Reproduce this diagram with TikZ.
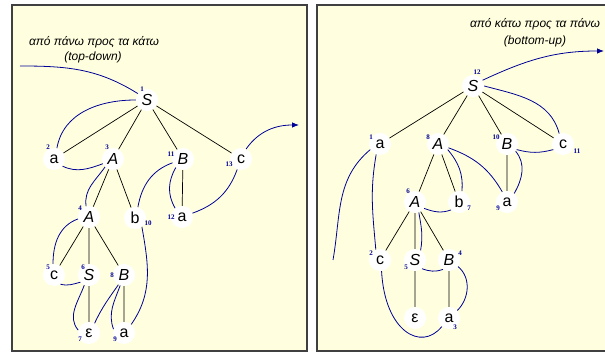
\documentclass[tikz,border=0pt]{standalone}
\usepackage{fontspec}
\setmainfont{Liberation Sans}
\newfontfamily\numfont{Liberation Serif}
\usetikzlibrary{arrows.meta}
\definecolor{bg}{RGB}{255,255,224}
\definecolor{nav}{RGB}{0,0,150}
\definecolor{frame}{RGB}{64,64,64}
\begin{document}
\begin{tikzpicture}[x=1pt,y=1pt,
  tn/.style={circle,fill=white,inner sep=0pt,minimum size=22pt,font=\fontsize{16}{16}\selectfont},
  lb/.style={inner sep=0pt,text=nav,font=\numfont\bfseries\fontsize{7}{7}\selectfont},
  ed/.style={black,line width=0.7pt},
  tr/.style={nav,line width=0.8pt},
  ttl/.style={font=\itshape\fontsize{12}{12}\selectfont,inner sep=0pt,align=center},
  ar/.style={-{Latex[length=7pt,width=5.5pt]}}]
\useasboundingbox (0,0) rectangle (605,352);
\fill[white] (0,0) rectangle (605,352);
\draw[frame, fill=bg, line width=1.2pt] (12,1) rectangle (307,347);
\draw[frame, fill=bg, line width=1.2pt] (317,1) rectangle (612,347);
% ---------- left panel ----------
\node[ttl] (t1) at (94,310) {από πάνω προς τα κάτω};
\node[ttl] (t2) at (93,295) {(top-down)};
\node[tn] (S1) at (147,252) {\textit{S}};
\node[tn] (a2) at (54,193) {a};
\node[tn] (A3) at (113,193) {\textit{A}};
\node[tn] (B11) at (183,193) {\textit{B}};
\node[tn] (c13) at (241,193) {c};
\node[tn] (A4) at (89,135) {\textit{A}};
\node[tn] (b10) at (135,134) {b};
\node[tn] (a12) at (182,135) {a};
\node[tn] (c5) at (54,77) {c};
\node[tn] (S6) at (89,77) {\textit{S}};
\node[tn] (B8) at (124,77) {\textit{B}};
\node[tn] (eps) at (89,19) {ε};
\node[tn] (a9) at (124,19) {a};
\node[lb] (n1) at (142,263) {1};
\node[lb] (n2) at (48,205) {2};
\node[lb] (n3) at (107,205) {3};
\node[lb] (n11) at (171,198) {11};
\node[lb] (n13) at (229,188) {13};
\node[lb] (n4) at (80,144) {4};
\node[lb] (n10) at (148,129) {10};
\node[lb] (n12) at (171,135) {12};
\node[lb] (n5) at (48,85) {5};
\node[lb] (n6) at (83,85) {6};
\node[lb] (n8) at (112,77) {8};
\node[lb] (n7) at (80,13) {7};
\node[lb] (n9) at (115,13) {9};
\draw[ed] (S1) -- (a2) (S1) -- (A3) (S1) -- (B11) (S1) -- (c13)
  (A3) -- (A4) (A3) -- (b10) (B11) -- (a12)
  (A4) -- (c5) (A4) -- (S6) (A4) -- (B8) (S6) -- (eps) (B8) -- (a9);
\coordinate (inL) at (20,286);
\coordinate (outL) at (299,227);
\draw[tr] (inL) to[out=0,in=148] (S1.145);
\draw[tr] (S1.180) to[out=180,in=80] (a2.75);
\draw[tr] (a2.320) to[out=-25,in=200] (A3.205);
\draw[tr] (A3.225) to[out=235,in=98] (A4.105);
\draw[tr] (A4.190) to[out=200,in=90] (c5.95);
\draw[tr] (c5.305) to[out=-15,in=195] (S6.220);
\draw[tr] (S6.245) to[out=250,in=130] (eps.165);
\draw[tr] (eps.60) to[out=65,in=235] (B8.240);
\draw[tr] (B8.250) to[out=250,in=110] (a9.160);
\draw[tr] (a9.50) to[out=55,in=280] (b10.308);
\draw[tr] (b10.75) to[out=80,in=200] (B11.200);
\draw[tr] (B11.230) to[out=240,in=120] (a12.128);
\draw[tr] (a12.20) to[out=20,in=250] (c13.250);
\draw[tr,ar] (c13.63) to[out=55,in=180] (outL);
% ---------- right panel ----------
\node[ttl] (t3) at (535,328) {από κάτω προς τα πάνω};
\node[ttl] (t4) at (535,311) {(bottom-up)};
\node[tn] (S12) at (473,266) {\textit{S}};
\node[tn] (a1) at (380,208) {a};
\node[tn] (A8) at (438,208) {\textit{A}};
\node[tn] (B10) at (507,208) {\textit{B}};
\node[tn] (c11) at (563,208) {c};
\node[tn] (A6) at (415,150) {\textit{A}};
\node[tn] (b7) at (459,150) {b};
\node[tn] (a9r) at (507,150) {a};
\node[tn] (c2) at (380,92) {c};
\node[tn] (S5) at (415,92) {\textit{S}};
\node[tn] (B4) at (449,92) {\textit{B}};
\node[tn] (epsr) at (415,34) {ε};
\node[tn] (a3) at (449,34) {a};
\node[lb] (m12) at (477,280) {12};
\node[lb] (m1) at (371,215) {1};
\node[lb] (m8) at (428,215) {8};
\node[lb] (m10) at (496,215) {10};
\node[lb] (m11) at (577,201) {11};
\node[lb] (m6) at (408,161) {6};
\node[lb] (m7) at (469,144) {7};
\node[lb] (m9) at (498,144) {9};
\node[lb] (m2) at (371,99) {2};
\node[lb] (m5) at (406,85) {5};
\node[lb] (m4) at (460,99) {4};
\node[lb] (m3) at (455,25) {3};
\draw[ed] (S12) -- (a1) (S12) -- (A8) (S12) -- (B10) (S12) -- (c11)
  (A8) -- (A6) (A8) -- (b7) (B10) -- (a9r)
  (A6) -- (c2) (A6) -- (S5) (A6) -- (B4) (S5) -- (epsr) (B4) -- (a3);
\coordinate (inR) at (333,92);
\coordinate (outR) at (604,301);
\draw[tr] (inR) to[out=80,in=220] (a1.210);
\draw[tr] (a1.250) to[out=260,in=95] (c2.112);
\draw[tr] (c2.278) to[out=273,in=231,out distance=60,in distance=33] (a3.230);
\draw[tr] (a3.42) to[out=45,in=-40] (B4.-36);
\draw[tr] (B4.237) to[out=200,in=340] (S5.309);
\draw[tr] (S5.60) to[out=80,in=-80] (A6.290);
\draw[tr] (A6.-35) to[out=-20,in=200] (b7.225);
\draw[tr] (b7.75) to[out=85,in=-50] (A8.330);
\draw[tr] (A8.340) to[out=-20,in=120] (a9r.115);
\draw[tr] (a9r.50) to[out=60,in=-50] (B10.320);
\draw[tr] (B10.330) to[out=-15,in=195] (c11.210);
\draw[tr] (c11.110) to[out=105,in=345] (S12.0);
\draw[tr,ar] (S12.31) to[out=25,in=180] (outR);
\end{tikzpicture}
\end{document}
